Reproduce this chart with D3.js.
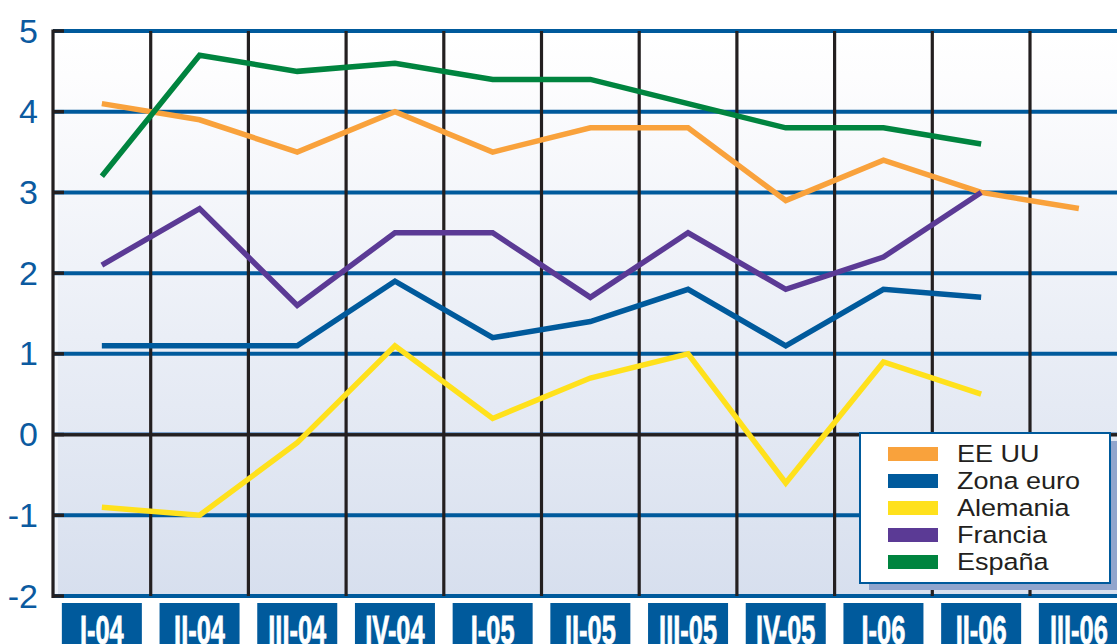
<!DOCTYPE html>
<html>
<head>
<meta charset="utf-8">
<script src="https://cdn.jsdelivr.net/npm/d3@7/dist/d3.min.js"></script>
<style>
  html, body { margin: 0; padding: 0; background: #ffffff; }
  svg { display: block; }
</style>
</head>
<body>
<svg id="chart" width="1117" height="644"></svg>
<script>
// ---- Data ----
const categories = ["I-04","II-04","III-04","IV-04","I-05","II-05","III-05","IV-05","I-06","II-06","III-06"];
const yTicks = [-2, -1, 0, 1, 2, 3, 4, 5];
const seriesNames = ["EE UU", "Zona euro", "Alemania", "Francia", "España"];
const eeuu     = [4.1, 3.9, 3.5, 4.0, 3.5, 3.8, 3.8, 2.9, 3.4, 3.0, 2.8];
const zonaEuro = [1.1, 1.1, 1.1, 1.9, 1.2, 1.4, 1.8, 1.1, 1.8, 1.7, null];
const alemania = [-0.9, -1.0, -0.1, 1.1, 0.2, 0.7, 1.0, -0.6, 0.9, 0.5, null];
const francia  = [2.1, 2.8, 1.6, 2.5, 2.5, 1.7, 2.5, 1.8, 2.2, 3.0, null];
const espana   = [3.2, 4.7, 4.5, 4.6, 4.4, 4.4, 4.1, 3.8, 3.8, 3.6, null];
const seriesValues = [eeuu, zonaEuro, alemania, francia, espana];
const seriesColors = ["#f9a23c", "#005a9c", "#ffe11c", "#5b3a95", "#00843f"];

// ---- Layout ----
const W = 1117, H = 644;
const mLeft = 53, mTop = 31, mBottom = 596;
const bandW = 97.7;
const svg = d3.select("#chart");

const x = d3.scaleBand().domain(categories).range([mLeft, mLeft + bandW * categories.length]).paddingInner(0).paddingOuter(0);
const y = d3.scaleLinear().domain([-2, 5]).range([mBottom, mTop]);

// background gradient
const defs = svg.append("defs");
const grad = defs.append("linearGradient").attr("id", "bg").attr("x1", 0).attr("y1", 0).attr("x2", 0).attr("y2", 1);
grad.append("stop").attr("offset", "0%").attr("stop-color", "#ffffff");
grad.append("stop").attr("offset", "8%").attr("stop-color", "#fdfdfe");
grad.append("stop").attr("offset", "100%").attr("stop-color", "#d7dfee");
svg.append("rect").attr("x", mLeft).attr("y", y(5)).attr("width", W - mLeft).attr("height", y(-2) - y(5)).attr("fill", "url(#bg)");
// lighter strip next to axis
svg.append("rect").attr("x", mLeft + 2).attr("y", y(5)).attr("width", 3).attr("height", y(-2) - y(5)).attr("fill", "#ffffff").attr("opacity", 0.5);

// horizontal gridlines
const hg = svg.append("g");
hg.selectAll("line").data(yTicks).join("line")
  .attr("x1", mLeft).attr("x2", W)
  .attr("y1", d => y(d)).attr("y2", d => y(d))
  .attr("stroke", d => d === 0 ? "#231f20" : "#005a9c")
  .attr("stroke-width", 4);
// thin light blue above zero line
svg.append("line").attr("x1", mLeft).attr("x2", W).attr("y1", y(0) - 2).attr("y2", y(0) - 2)
  .attr("stroke", "#7ea6d4").attr("stroke-width", 1);

// vertical gridlines at band boundaries
const vg = svg.append("g");
vg.selectAll("line").data(categories.slice(1)).join("line")
  .attr("x1", d => x(d)).attr("x2", d => x(d))
  .attr("y1", y(5)).attr("y2", y(-2))
  .attr("stroke", "#231f20").attr("stroke-width", 3.2);

// left axis
svg.append("line").attr("x1", mLeft).attr("x2", mLeft).attr("y1", y(5) - 1.5).attr("y2", y(-2) + 2)
  .attr("stroke", "#231f20").attr("stroke-width", 3.2);
svg.append("g").selectAll("line").data(yTicks).join("line")
  .attr("x1", mLeft).attr("x2", mLeft + 11)
  .attr("y1", d => y(d)).attr("y2", d => y(d))
  .attr("stroke", "#231f20").attr("stroke-width", 3.5);

// y labels
svg.append("g").selectAll("text").data(yTicks).join("text")
  .attr("x", 38).attr("y", d => y(d))
  .attr("dy", "0.34em")
  .attr("text-anchor", "end")
  .attr("font-family", "'Liberation Sans', Arial, sans-serif")
  .attr("font-size", 34)
  .attr("fill", "#0b5aa0")
  .text(d => d);

// series lines (draw order)
const line = d3.line()
  .defined(d => d.v !== null)
  .x(d => x(d.c) + x.bandwidth() / 2)
  .y(d => y(d.v));
const order = [0, 3, 1, 2, 4];
svg.append("g").selectAll("path").data(order).join("path")
  .attr("d", i => line(categories.map((c, j) => ({ c, v: seriesValues[i][j] }))))
  .attr("fill", "none")
  .attr("stroke", i => seriesColors[i])
  .attr("stroke-width", 5.5)
  .attr("stroke-linejoin", "miter")
  .attr("stroke-linecap", "butt");

// category label boxes
const lab = svg.append("g").selectAll("g").data(categories).join("g")
  .attr("transform", d => `translate(${x(d) + x.bandwidth() / 2},0)`);
lab.append("rect").attr("x", -40).attr("y", 603).attr("width", 80).attr("height", 50).attr("fill", "#005a9c");
lab.append("text")
  .attr("transform", "translate(0,644) scale(0.62,1)")
  .attr("text-anchor", "middle")
  .attr("font-family", "'Liberation Sans', Arial, sans-serif")
  .attr("font-weight", "bold")
  .attr("font-size", 41)
  .attr("stroke", "#ffffff")
  .attr("stroke-width", 0.8)
  .attr("fill", "#ffffff")
  .text(d => d);

// legend
const lg = svg.append("g");
lg.append("rect").attr("x", 869).attr("y", 441).attr("width", 260).attr("height", 149).attr("fill", "#91a5cd");
lg.append("rect").attr("x", 860).attr("y", 433).attr("width", 250).attr("height", 150)
  .attr("fill", "#ffffff").attr("stroke", "#005a9c").attr("stroke-width", 2);
const items = lg.selectAll("g.item").data(seriesNames).join("g").attr("class", "item")
  .attr("transform", (d, i) => `translate(0,${454 + i * 27})`);
items.append("rect").attr("x", 888).attr("y", -7).attr("width", 50).attr("height", 14)
  .attr("fill", (d, i) => seriesColors[i]);
items.append("text")
  .attr("transform", "translate(957,0) scale(1.15,1)")
  .attr("dy", "0.36em")
  .attr("font-family", "'Liberation Sans', Arial, sans-serif")
  .attr("font-size", 23.5)
  .attr("fill", "#231f20")
  .text(d => d);
</script>
</body>
</html>
